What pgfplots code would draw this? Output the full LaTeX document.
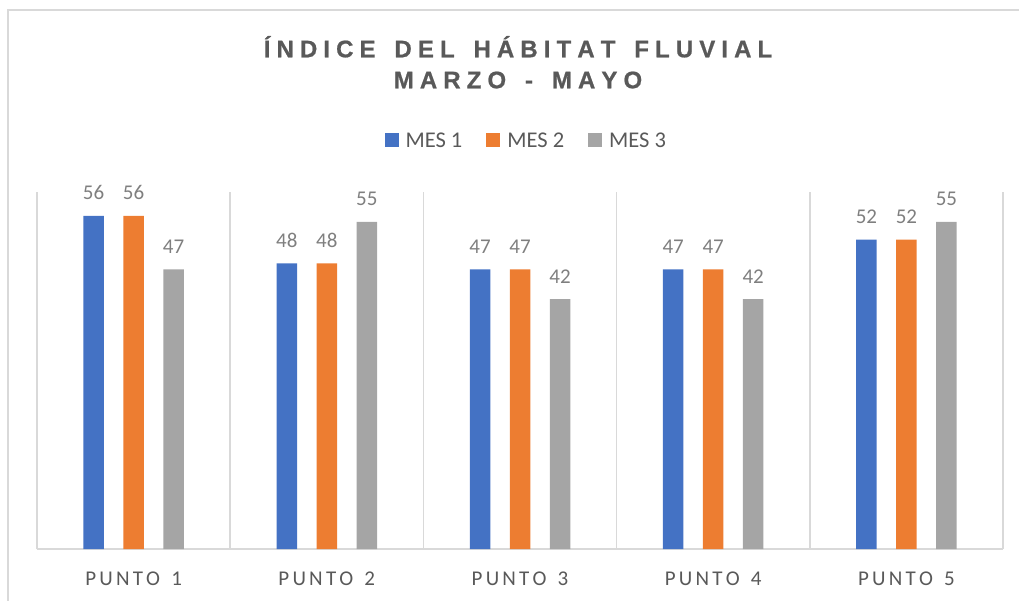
\documentclass[border=0pt]{standalone}
\usepackage{pgfplots}
\pgfplotsset{compat=1.18}
\usepackage{fontspec}
\setmainfont{Carlito}
\newfontfamily\titlefont[FakeBold=0.8]{Liberation Sans Bold}
\definecolor{c1}{HTML}{4472C4}
\definecolor{c2}{HTML}{ED7D31}
\definecolor{c3}{HTML}{A5A5A5}
\definecolor{txt}{HTML}{595959}
\definecolor{lbl}{HTML}{7F7F7F}
\definecolor{grd}{HTML}{D9D9D9}
\makeatletter
\def\spaced#1#2{\def\sp@k{#1}\spaced@#2\@nil\unkern}
\def\spaced@#1{\ifx#1\@nil\else#1\kern\sp@k\expandafter\spaced@\fi}
\makeatother
\newcommand\tk[1]{\spaced{3.2pt}{#1}}
\begin{document}
\begin{tikzpicture}[x=1pt,y=1pt]
\path[use as bounding box] (0,0) rectangle (1019,600);
\draw[grd, line width=2pt] (8,-10) rectangle (1030,590);
\node[anchor=base, text=txt, font=\titlefont\fontsize{24}{28}\selectfont, inner sep=0] at (518,542.7) {\spaced{6.1pt}{ÍNDICE~DEL~HÁBITAT~FLUVIAL}};
\node[anchor=base, text=txt, font=\titlefont\fontsize{24}{28}\selectfont, inner sep=0] at (518,511.7) {\spaced{6.1pt}{MARZO~-~MAYO}};
\begin{axis}[
  at={(37pt,51pt)}, anchor=south west,
  scale only axis, width=966pt, height=357pt,
  xmin=-0.5, xmax=4.5, ymin=0, ymax=60,
  ybar=19.5pt, bar width=20.5pt,
  xtick={0,1,2,3,4},
  xticklabels={{\tk{PUNTO~1}},{\tk{PUNTO~2}},{\tk{PUNTO~3}},{\tk{PUNTO~4}},{\tk{PUNTO~5}}},
  xticklabel style={anchor=base, yshift=-36pt, inner sep=0pt, text=txt, font=\fontsize{21}{25}\selectfont},
  minor xtick={-0.5,0.5,1.5,2.5,3.5,4.5},
  xminorgrids=true, xmajorgrids=false,
  minor grid style={grd, line width=1.5pt},
  major tick length=0pt, minor tick length=0pt,
  ytick=\empty,
  axis x line*=bottom, axis y line=none,
  x axis line style={-, grd, line width=2pt},
  clip=false,
  /pgf/number format/assume math mode=true,
  nodes near coords,
  every node near coord/.append style={anchor=base, yshift=16pt, inner sep=0pt, text=lbl, font=\fontsize{21}{25}\selectfont},
  legend columns=3,
  legend image code/.code={\fill[#1] (0pt,-6pt) rectangle (14pt,8pt);},
  legend style={at={(0.5065,1.1429)}, anchor=center, draw=none, fill=none,
    text=txt, font=\fontsize{22.5}{26}\selectfont,
    /tikz/every odd column/.append style={column sep=5pt},
    /tikz/every even column/.append style={column sep=22pt}},
]
\addplot[fill=c1, draw=none] coordinates {(0,56) (1,48) (2,47) (3,47) (4,52)};
\addplot[fill=c2, draw=none] coordinates {(0,56) (1,48) (2,47) (3,47) (4,52)};
\addplot[fill=c3, draw=none] coordinates {(0,47) (1,55) (2,42) (3,42) (4,55)};
\legend{MES 1, MES 2, MES 3}
\end{axis}
\end{tikzpicture}
\end{document}
